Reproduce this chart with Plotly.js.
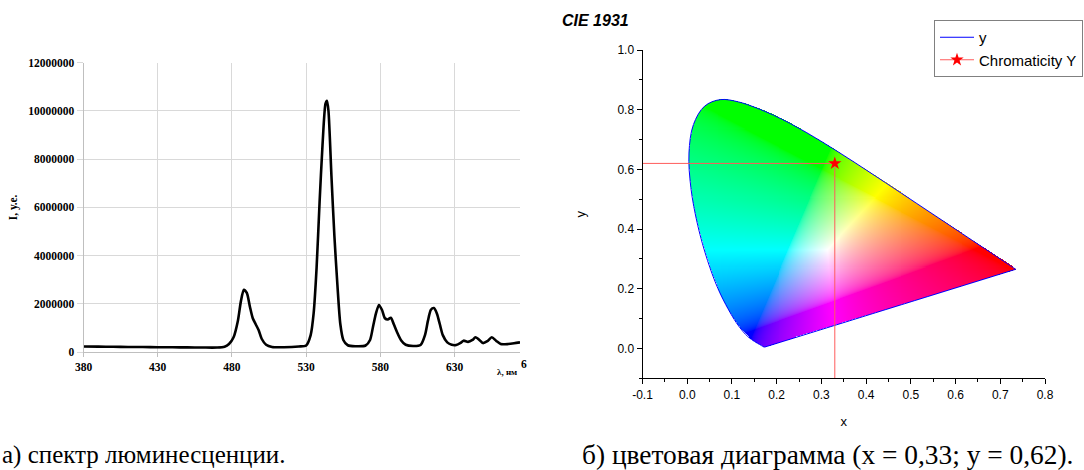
<!DOCTYPE html>
<html><head><meta charset="utf-8">
<script src="https://cdn.plot.ly/plotly-3.0.1.min.js"></script>
<style>html,body{margin:0;padding:0;background:#fff}#chart{width:1084px;height:470px}</style>
</head><body><div id="chart"></div>
<script>
// ---- (a) luminescence spectrum ----
const wavelength = [380,390,400,410,420,430,440,450,460,470,475,478,481,484,486,488,490,492,494,496,498,500,503,507,515,525,530,533,535,537,539,541,543,544,545,547,549,551,553,555,558,563,570,573,575,577,579,581,583,585,587,589,591,594,597,602,607,610,612,614,616,618,620,622,625,628,631,634,636,639,642,644,647,649,652,655,658,661,666,670,674];
const intensity  = [230000,225000,215000,210000,205000,200000,195000,190000,185000,185000,220000,330000,600000,1300000,2100000,2580000,2450000,1900000,1400000,1150000,900000,550000,300000,210000,200000,230000,270000,700000,1600000,3500000,6200000,8600000,10300000,10420000,10000000,7300000,4800000,2800000,1150000,500000,280000,240000,270000,500000,1050000,1600000,1950000,1750000,1400000,1350000,1420000,1150000,850000,480000,300000,250000,290000,700000,1300000,1750000,1820000,1600000,1150000,700000,400000,300000,290000,380000,470000,420000,500000,610000,480000,370000,450000,610000,460000,330000,330000,360000,400000];
const spectrumTicks = [380,430,480,530,580,630];

// ---- (b) CIE 1931 spectral locus (380..700 nm, 5 nm) ----
const locusX = [0.1741,0.1740,0.1738,0.1736,0.1733,0.1730,0.1726,0.1721,0.1714,0.1703,0.1689,0.1669,0.1644,0.1611,0.1566,0.1510,0.1440,0.1355,0.1241,0.1096,0.0913,0.0687,0.0454,0.0235,0.0082,0.0039,0.0139,0.0389,0.0743,0.1142,0.1547,0.1929,0.2296,0.2658,0.3016,0.3373,0.3731,0.4087,0.4441,0.4788,0.5125,0.5448,0.5752,0.6029,0.6270,0.6482,0.6658,0.6801,0.6915,0.7006,0.7079,0.7140,0.7190,0.7230,0.7260,0.7283,0.7300,0.7311,0.7320,0.7327,0.7334,0.7340,0.7344,0.7346,0.7347];
const locusY = [0.0050,0.0050,0.0049,0.0049,0.0048,0.0048,0.0048,0.0048,0.0051,0.0058,0.0069,0.0086,0.0109,0.0138,0.0177,0.0227,0.0297,0.0399,0.0578,0.0868,0.1327,0.2007,0.2950,0.4127,0.5384,0.6548,0.7502,0.8120,0.8338,0.8262,0.8059,0.7816,0.7543,0.7243,0.6923,0.6589,0.6245,0.5896,0.5547,0.5202,0.4866,0.4544,0.4242,0.3965,0.3725,0.3514,0.3340,0.3197,0.3083,0.2993,0.2920,0.2859,0.2809,0.2770,0.2740,0.2717,0.2700,0.2689,0.2680,0.2673,0.2666,0.2660,0.2656,0.2654,0.2653];
const chromX = [0.33];
const chromY = [0.62];
const cieTickVals = [-0.1,0.0,0.1,0.2,0.3,0.4,0.5,0.6,0.7,0.8];
const cieTickText = ['-0.1','0.0','0.1','0.2','0.3','0.4','0.5','0.6','0.7','0.8'];

// smooth (Catmull-Rom) boundary used only to decide which image cells are inside the locus
const polyX = [], polyY = [];
(function(){
  const n = locusX.length, SUB = 8;
  for (let i = 0; i < n - 1; i++) {
    const i0 = Math.max(i-1,0), i3 = Math.min(i+2,n-1);
    for (let s = 0; s < SUB; s++) {
      const t = s / SUB, t2 = t*t, t3 = t2*t;
      const f = (p0,p1,p2,p3) => 0.5*((2*p1) + (-p0+p2)*t + (2*p0-5*p1+4*p2-p3)*t2 + (-p0+3*p1-3*p2+p3)*t3);
      polyX.push(f(locusX[i0],locusX[i],locusX[i+1],locusX[i3]));
      polyY.push(f(locusY[i0],locusY[i],locusY[i+1],locusY[i3]));
    }
  }
  polyX.push(locusX[n-1]); polyY.push(locusY[n-1]);
})();
function inside(px, py){
  let c = false;
  for (let i = 0, j = polyX.length - 1; i < polyX.length; j = i++) {
    const xi = polyX[i], yi = polyY[i], xj = polyX[j], yj = polyY[j];
    if (((yi > py) !== (yj > py)) && (px < (xj - xi) * (py - yi) / (yj - yi) + xi)) c = !c;
  }
  return c;
}
function gam(v){ return v <= 0.0031308 ? 12.92*v : 1.055*Math.pow(v,1/2.4)-0.055; }
function xyColor(x, y){
  const X = x / y, Y = 1, Z = (1 - x - y) / y;
  let r = 3.2406*X - 1.5372*Y - 0.4986*Z;
  let g = -0.9689*X + 1.8758*Y + 0.0415*Z;
  let b = 0.0557*X - 0.2040*Y + 1.0570*Z;
  r = Math.max(r,0); g = Math.max(g,0); b = Math.max(b,0);
  const m = Math.max(r,g,b) || 1;
  return [Math.round(255*gam(r/m)), Math.round(255*gam(g/m)), Math.round(255*gam(b/m)), 1];
}
const imgDx = 0.0022, imgDy = 0.0034, imgX0 = 0, imgY0 = 0, nx = 340, ny = 250;
const imgZ = [];
for (let j = 0; j < ny; j++) {
  const row = [];
  const yy = imgY0 + j*imgDy;
  for (let i = 0; i < nx; i++) {
    const xx = imgX0 + i*imgDx;
    row.push(inside(xx, yy) ? xyColor(xx, yy) : [255,255,255,0]);
  }
  imgZ.push(row);
}

const W = 1084, H = 470;
const px = v => v / W, py = v => 1 - v / H;
const serif = 'Liberation Serif, Times New Roman, serif';
const sans = 'Liberation Sans, Arial, sans-serif';
const nL = locusX.length - 1;

const traces = [
  {type:'scatter', mode:'lines', x: wavelength, y: intensity, xaxis:'x', yaxis:'y',
   line:{color:'#000', width:2.6, shape:'spline', smoothing:0.7}, showlegend:false, hoverinfo:'skip'},
  {type:'image', z: imgZ, x0: imgX0, dx: imgDx, y0: imgY0, dy: imgDy, colormodel:'rgba',
   xaxis:'x2', yaxis:'y2', hoverinfo:'skip'},
  {type:'scatter', mode:'lines', x: locusX, y: locusY, xaxis:'x2', yaxis:'y2', name:'y',
   line:{color:'#0000ff', width:1, shape:'spline', smoothing:1}, hoverinfo:'skip'},
  {type:'scatter', mode:'lines', x: [locusX[nL], locusX[0]], y: [locusY[nL], locusY[0]], xaxis:'x2', yaxis:'y2',
   line:{color:'#0000ff', width:1}, showlegend:false, hoverinfo:'skip'},
  {type:'scatter', mode:'lines', x:[-0.1, chromX[0], chromX[0]], y:[chromY[0], chromY[0], -0.1],
   xaxis:'x2', yaxis:'y2', line:{color:'#ff5c5c', width:1}, showlegend:false, hoverinfo:'skip'},
  {type:'scatter', mode:'lines+markers', x: chromX, y: chromY, xaxis:'x2', yaxis:'y2', name:'Chromaticity Y',
   line:{color:'#ff5c5c', width:1}, marker:{symbol:'star', color:'#ff0000', size:10, line:{width:0}}, hoverinfo:'skip'}
];

const layout = {
  width: W, height: H, margin:{l:0,r:0,t:0,b:0}, paper_bgcolor:'#fff', plot_bgcolor:'rgba(0,0,0,0)',
  showlegend: true,
  title:{text:'<b><i>CIE 1931</i></b>', x: px(562), xanchor:'left', xref:'paper', y: py(20), yanchor:'middle',
         font:{family:sans, size:16, color:'#000'}},
  xaxis:{domain:[px(83.5), px(520)], range:[380,674], anchor:'y', tickvals: spectrumTicks,
         showgrid:true, gridcolor:'#d9d9d9', gridwidth:1, showline:true, linecolor:'#bfbfbf', linewidth:1,
         ticks:'outside', ticklen:4, tickcolor:'#bfbfbf', zeroline:false,
         tickfont:{family:serif, size:11.5, color:'#000', weight:'bold'}},
  yaxis:{domain:[py(352), py(62.7)], range:[0,12000000], anchor:'x', dtick:2000000, tick0:0, tickformat:'d',
         showgrid:true, gridcolor:'#d9d9d9', gridwidth:1, showline:true, linecolor:'#bfbfbf', linewidth:1,
         ticks:'outside', ticklen:6, tickcolor:'#d9d9d9', zeroline:false,
         tickfont:{family:serif, size:11.5, color:'#000', weight:'bold'},
         title:{text:'I, у.е.', standoff:8, font:{family:serif, size:11.5, color:'#000', weight:'bold'}}},
  xaxis2:{domain:[px(642.5), px(1045)], range:[-0.1,0.8], anchor:'y2', tickvals: cieTickVals, ticktext: cieTickText,
          showgrid:false, zeroline:false, showline:true, linecolor:'#000', linewidth:1,
          ticks:'outside', ticklen:5, tickcolor:'#000',
          minor:{ticks:'outside', ticklen:3, dtick:0.05, tick0:0, tickcolor:'#000', showgrid:false},
          tickfont:{family:sans, size:12, color:'#000'},
          title:{text:'x', standoff:16, font:{family:sans, size:13, color:'#000'}}},
  yaxis2:{domain:[py(378.3), py(50)], range:[-0.1,1.0], anchor:'x2', scaleanchor:false, dtick:0.2, tick0:0, tickformat:'.1f',
          showgrid:false, zeroline:false, showline:true, linecolor:'#000', linewidth:1,
          ticks:'outside', ticklen:5, tickcolor:'#000',
          minor:{ticks:'outside', ticklen:3, dtick:0.1, tick0:0, tickcolor:'#000', showgrid:false},
          tickfont:{family:sans, size:12, color:'#000'},
          title:{text:'y', standoff:28, font:{family:sans, size:13, color:'#000'}}},
  legend:{x: px(934), y: py(20), xanchor:'left', yanchor:'top', bgcolor:'#fff', bordercolor:'#808080', borderwidth:1,
          font:{family:sans, size:15, color:'#000'}, itemwidth:34, tracegroupgap:0},
  annotations:[
    {text:'λ, нм', xref:'paper', yref:'paper', x: px(507), y: py(372), showarrow:false, xanchor:'center', yanchor:'middle',
     font:{family:serif, size:9, color:'#000', weight:'bold'}},
    {text:'6', xref:'paper', yref:'paper', x: px(519), y: py(364), showarrow:false, xanchor:'left', yanchor:'middle',
     font:{family:serif, size:11.5, color:'#000', weight:'bold'}},
    {text:'а) спектр люминесценции.', xref:'paper', yref:'paper', x: px(0), y: py(455), showarrow:false, xanchor:'left', yanchor:'middle',
     font:{family:serif, size:25, color:'#000'}},
    {text:'б) цветовая диаграмма (x = 0,33; y = 0,62).', xref:'paper', yref:'paper', x: px(580), y: py(455), showarrow:false, xanchor:'left', yanchor:'middle',
     font:{family:serif, size:27.4, color:'#000'}}
  ]
};

Plotly.newPlot('chart', traces, layout, {staticPlot:true, displayModeBar:false});
</script>
</body></html>
